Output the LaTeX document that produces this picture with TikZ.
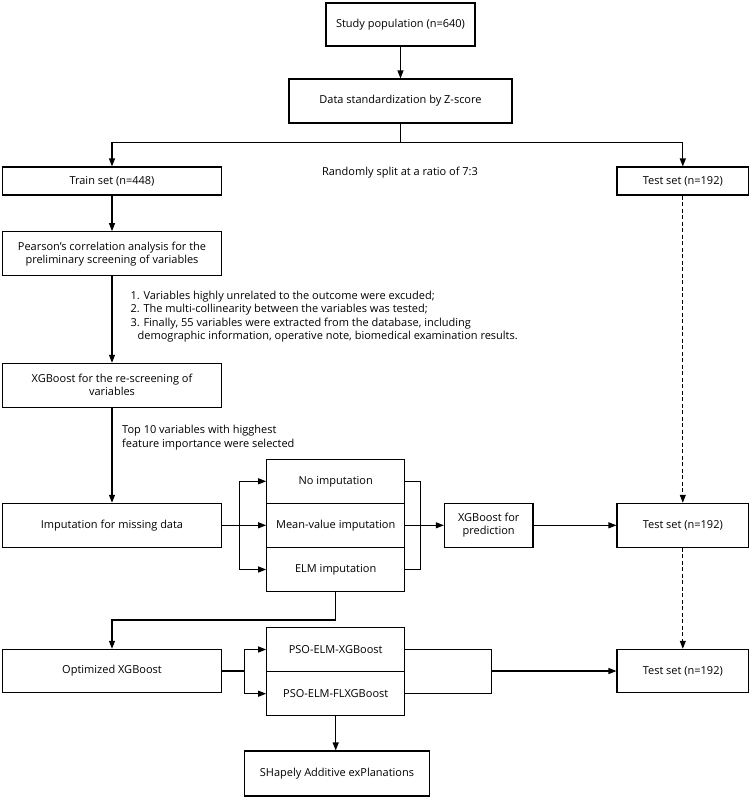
\documentclass[tikz,border=0pt]{standalone}
\usepackage{fontspec}
\setmainfont{Open Sans}
\usetikzlibrary{arrows.meta}
\begin{document}
\begin{tikzpicture}[x=1pt,y=-1pt,
  box/.style={draw,line width=1.1pt,inner sep=1pt,align=center,font=\fontsize{11}{13}\selectfont},
  lbl/.style={inner sep=0pt,font=\fontsize{11}{13}\selectfont},
  conn/.style={line width=1.1pt},
  arr/.style={line width=1.1pt,-{Triangle[length=8pt,width=6pt]}},
  darr/.style={line width=0.9pt,dashed,dash pattern=on 4pt off 2.5pt,-{Triangle[length=8pt,width=6pt]}}]
\useasboundingbox (0,0) rectangle (750,800);
\node[box,minimum width=149pt,minimum height=43pt] (study) at (400.5,24.5) {Study population (n=640)};
\node[box,minimum width=223pt,minimum height=44pt] (data) at (400.5,101) {Data standardization by Z-score};
\node[box,minimum width=219pt,minimum height=28pt] (train) at (112,181) {Train set (n=448)};
\node[box,minimum width=131.6pt,minimum height=28pt] (test1) at (682.8,181) {Test set (n=192)};
\node[lbl] (split) at (400,173) {Randomly split at a ratio of 7:3};
\node[box,minimum width=219pt,minimum height=44pt] (pearson) at (112,253.7) {Pearson's correlation analysis for the\\preliminary screening of variables};
\node[lbl,anchor=west] (l1) at (130.3,296.7) {1. Variables highly unrelated to the outcome were excuded;};
\node[lbl,anchor=west] (l2) at (130.3,309.5) {2. The multi-collinearity between the variables was tested;};
\node[lbl,anchor=west] (l3) at (130.3,323.3) {3. Finally, 55 variables were extracted from the database, including};
\node[lbl,anchor=west] (l4) at (137.5,336.7) {demographic information, operative note, biomedical examination results.};
\node[box,minimum width=219pt,minimum height=44pt] (xgbs) at (112,385.3) {XGBoost for the re-screening of\\variables};
\node[lbl,anchor=west] (t1) at (122,430.7) {Top 10 variables with higghest};
\node[lbl,anchor=west] (t2) at (122,444.3) {feature importance were selected};
\node[box,minimum width=219pt,minimum height=44pt] (imput) at (112,525.3) {Imputation for missing data};
\node[box,minimum width=138pt,minimum height=44pt] (noimp) at (335.7,481.3) {No imputation};
\node[box,minimum width=138pt,minimum height=44pt] (mean) at (335.7,525.3) {Mean-value imputation};
\node[box,minimum width=138pt,minimum height=44pt] (elm) at (335.7,569.5) {ELM imputation};
\node[box,minimum width=88.6pt,minimum height=44pt] (pred) at (488.7,525.3) {XGBoost for\\prediction};
\node[box,minimum width=131.6pt,minimum height=44pt] (test2) at (682.8,525.3) {Test set (n=192)};
\node[box,minimum width=219pt,minimum height=43.4pt] (opt) at (112,671) {Optimized XGBoost};
\node[box,minimum width=138pt,minimum height=44pt] (psox) at (335.7,649.5) {PSO-ELM-XGBoost};
\node[box,minimum width=138pt,minimum height=44pt] (psofl) at (335.7,693.7) {PSO-ELM-FLXGBoost};
\node[box,minimum width=131.6pt,minimum height=43.4pt] (test3) at (682.8,671) {Test set (n=192)};
\node[box,minimum width=185.3pt,minimum height=45pt] (shap) at (337,773.5) {SHapely Additive exPlanations};
\coordinate (split0) at (400.5,142.7);
\coordinate (j1) at (239.5,525.3);
\coordinate (r1) at (420.5,525.3);
\coordinate (e1) at (335.7,620);
\coordinate (j2) at (244.3,671);
\coordinate (r2) at (491.9,671);
% connectors
\draw[arr] (study) -- (data);
\draw[conn] (data.south) -- (split0);
\draw[arr] (split0) -| (train.north);
\draw[arr] (split0) -| (test1.north);
\draw[arr] (train) -- (pearson);
\draw[arr] (pearson) -- (xgbs);
\draw[arr] (xgbs) -- (imput);
\draw[arr] (imput) -- (mean);
\draw[arr] (j1) |- (noimp.west);
\draw[arr] (j1) |- (elm.west);
\draw[conn] (noimp.east) -| (r1) |- (elm.east);
\draw[arr] (mean) -- (pred);
\draw[arr] (pred) -- (test2);
\draw[darr] (test1) -- (test2);
\draw[darr] (test2) -- (test3);
\draw[conn] (elm.south) -- (e1);
\draw[arr] (e1) -| (opt.north);
\draw[conn] (opt.east) -- (j2);
\draw[arr] (j2) |- (psox.west);
\draw[arr] (j2) |- (psofl.west);
\draw[conn] (psox.east) -| (r2) |- (psofl.east);
\draw[arr] (r2) -- (test3);
\draw[arr] (psofl.south) -- (psofl.south |- shap.north);
\end{tikzpicture}
\end{document}
